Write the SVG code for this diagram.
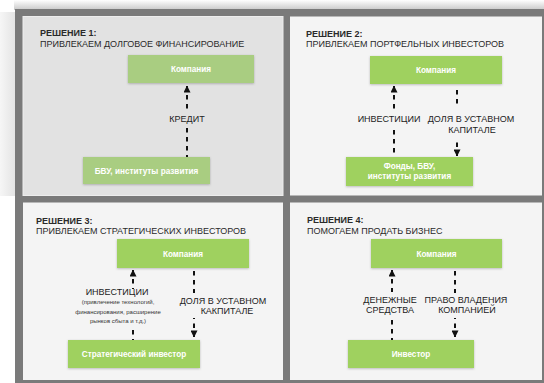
<svg xmlns="http://www.w3.org/2000/svg" width="544" height="383" viewBox="0 0 544 383">
  <defs>
    <linearGradient id="topShade" x1="0" y1="0" x2="0" y2="1">
      <stop offset="0" stop-color="#ffffff"/>
      <stop offset="1" stop-color="#c8c8c8"/>
    </linearGradient>
    <linearGradient id="leftShade" x1="0" y1="0" x2="1" y2="0">
      <stop offset="0" stop-color="#f6f6f6"/>
      <stop offset="1" stop-color="#e4e4e4"/>
    </linearGradient>
    <filter id="sh" x="-10%" y="-20%" width="120%" height="150%">
      <feDropShadow dx="0" dy="0.8" stdDeviation="0.9" flood-color="#000" flood-opacity="0.25"/>
    </filter>
    <marker id="ah" viewBox="0 0 8 8" refX="7.5" refY="4" markerWidth="7" markerHeight="7" markerUnits="userSpaceOnUse" orient="auto-start-reverse">
      <path d="M0,0 L8,4 L0,8 z" fill="#111"/>
    </marker>
  </defs>
  <style>
    .title { font-family: "Liberation Sans", Arial, sans-serif; font-size: 9px; font-weight: bold; fill: #2a2a2a; }
    .sub { font-family: "Liberation Sans", Arial, sans-serif; font-size: 9px; fill: #2a2a2a; }
    .lbl { font-family: "Liberation Sans", Arial, sans-serif; font-size: 9px; fill: #222; text-anchor: middle; }
    .small { font-family: "Liberation Sans", Arial, sans-serif; font-size: 6px; fill: #333; text-anchor: middle; }
    .box { fill: #9fd15f; filter: url(#sh); }
    .box1 { fill: #a9cd81; filter: url(#sh); }
    .ntext { font-family: "Liberation Sans", Arial, sans-serif; font-size: 8.2px; font-weight: bold; fill: #ffffff; text-anchor: middle; }
    .dash { stroke: #111; stroke-width: 2; stroke-dasharray: 4.5 4.5; fill: none; }
  </style>

  <!-- background -->
  <rect x="0" y="0" width="544" height="383" fill="#ffffff"/>
  <rect x="14" y="0" width="530" height="10" fill="url(#topShade)"/>
  <rect x="0" y="12" width="15" height="184" fill="url(#leftShade)"/>

  <!-- frame -->
  <rect x="15" y="9" width="535" height="380" fill="#7a7a7a"/>

  <!-- panels -->
  <rect x="23" y="16.5" width="260" height="179" fill="#e2e2e2" stroke="#ededed" stroke-width="1"/>
  <rect x="290" y="16.5" width="252" height="179" fill="#f4f4f4"/>
  <rect x="23" y="202.5" width="260" height="177.5" fill="#f4f4f4"/>
  <rect x="290" y="202.5" width="252" height="177.5" fill="#f4f4f4"/>

  <!-- titles -->
  <text class="title" x="40" y="36">РЕШЕНИЕ 1:</text>
  <text class="sub" x="40" y="47">ПРИВЛЕКАЕМ ДОЛГОВОЕ ФИНАНСИРОВАНИЕ</text>
  <text class="title" x="306" y="36.5">РЕШЕНИЕ 2:</text>
  <text class="sub" x="306" y="47">ПРИВЛЕКАЕМ ПОРТФЕЛЬНЫХ ИНВЕСТОРОВ</text>
  <text class="title" x="36" y="223.5">РЕШЕНИЕ 3:</text>
  <text class="sub" x="36" y="234">ПРИВЛЕКАЕМ СТРАТЕГИЧЕСКИХ ИНВЕСТОРОВ</text>
  <text class="title" x="307" y="223">РЕШЕНИЕ 4:</text>
  <text class="sub" x="307" y="233.5">ПОМОГАЕМ ПРОДАТЬ БИЗНЕС</text>

  <!-- nodes -->
  <g id="p1-company">
    <rect class="box1" x="128" y="55" width="126" height="28"/>
    <text class="ntext" x="191" y="72">Компания</text>
  </g>
  <g id="p1-bvu">
    <rect class="box1" x="83" y="157" width="127" height="27"/>
    <text class="ntext" x="146.5" y="173.5">БВУ, институты развития</text>
  </g>
  <g id="p2-company">
    <rect class="box" x="370" y="56" width="132" height="28"/>
    <text class="ntext" x="436" y="73">Компания</text>
  </g>
  <g id="p2-funds">
    <rect class="box" x="346" y="157" width="127" height="29"/>
    <text class="ntext" x="409.5" y="168.5">Фонды, БВУ,</text>
    <text class="ntext" x="409.5" y="179">институты развития</text>
  </g>
  <g id="p3-company">
    <rect class="box" x="117" y="239" width="132" height="29"/>
    <text class="ntext" x="183" y="256.5">Компания</text>
  </g>
  <g id="p3-investor">
    <rect class="box" x="68" y="340" width="132" height="28"/>
    <text class="ntext" x="134" y="357">Стратегический инвестор</text>
  </g>
  <g id="p4-company">
    <rect class="box" x="371" y="239" width="131" height="29"/>
    <text class="ntext" x="436.5" y="256.5">Компания</text>
  </g>
  <g id="p4-investor">
    <rect class="box" x="348" y="340" width="126" height="28"/>
    <text class="ntext" x="411" y="357">Инвестор</text>
  </g>

  <!-- connectors -->
  <g id="connectors">
    <path class="dash" d="M187,86 V111" marker-start="url(#ah)"/>
    <path class="dash" d="M187,128 V157"/>
    <path class="dash" d="M394,86 V111" marker-start="url(#ah)"/>
    <path class="dash" d="M394,130 V157"/>
    <path class="dash" d="M457,90 V108"/>
    <path class="dash" d="M457,156 V138" marker-start="url(#ah)"/>
    <path class="dash" d="M133,270 V289" marker-start="url(#ah)"/>
    <path class="dash" d="M133,330 V340"/>
    <path class="dash" d="M194,271 V293"/>
    <path class="dash" d="M194,337 V318" marker-start="url(#ah)"/>
    <path class="dash" d="M392,270 V292" marker-start="url(#ah)"/>
    <path class="dash" d="M392,320 V340"/>
    <path class="dash" d="M455,271 V293"/>
    <path class="dash" d="M455,337 V318" marker-start="url(#ah)"/>
  </g>

  <!-- connector labels -->
  <text class="lbl" x="187" y="122">КРЕДИТ</text>
  <text class="lbl" x="389" y="122">ИНВЕСТИЦИИ</text>
  <text class="lbl" x="471" y="122">ДОЛЯ В УСТАВНОМ</text>
  <text class="lbl" x="472" y="132.5">КАПИТАЛЕ</text>
  <text class="lbl" x="117" y="294.5">ИНВЕСТИЦИИ</text>
  <text class="small" x="118" y="304">(привлечение технологий,</text>
  <text class="small" x="118" y="313.5">финансирования, расширение</text>
  <text class="small" x="118" y="323">рынков сбыта и т.д.)</text>
  <text class="lbl" x="223" y="304">ДОЛЯ В УСТАВНОМ</text>
  <text class="lbl" x="227" y="314">КАКПИТАЛЕ</text>
  <text class="lbl" x="390" y="303">ДЕНЕЖНЫЕ</text>
  <text class="lbl" x="390" y="313">СРЕДСТВА</text>
  <text class="lbl" x="466" y="303">ПРАВО ВЛАДЕНИЯ</text>
  <text class="lbl" x="467" y="313">КОМПАНИЕЙ</text>
</svg>
